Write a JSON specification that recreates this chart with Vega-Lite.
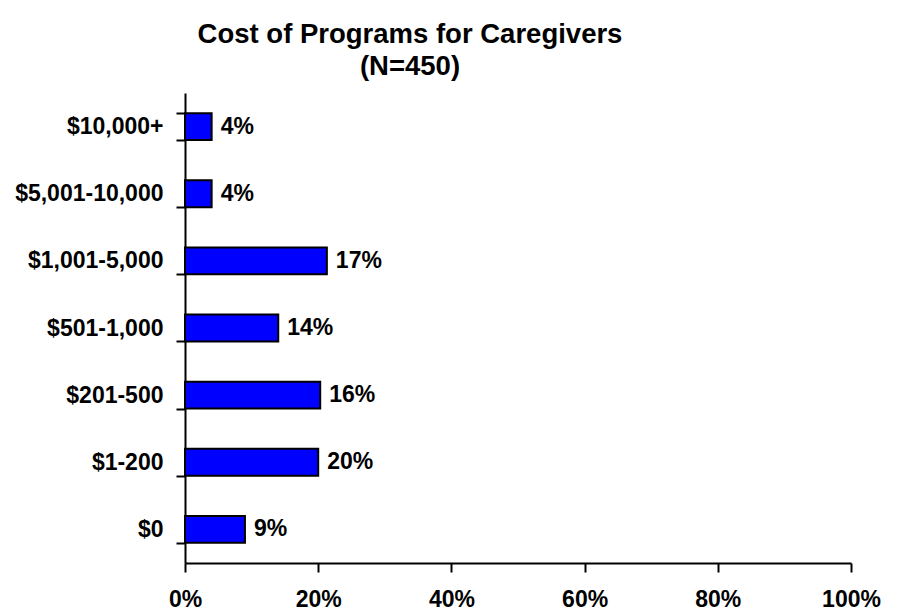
{
  "$schema": "https://vega.github.io/schema/vega-lite/v6.json",
  "width": 666,
  "height": 470,
  "autosize": "none",
  "padding": {"left": 185, "top": 93, "right": 47, "bottom": 49},
  "background": "white",
  "config": {"view": {"stroke": null}},
  "title": {
    "text": ["Cost of Programs for Caregivers", "(N=450)"],
    "font": "Liberation Sans",
    "fontSize": 27.5,
    "fontWeight": "bold",
    "color": "black",
    "lineHeight": 32,
    "anchor": "middle",
    "dx": -108,
    "offset": 2
  },
  "data": {
    "values": [
      {"cost": "$10,000+", "bar": 4, "label": "4%"},
      {"cost": "$5,001-10,000", "bar": 4, "label": "4%"},
      {"cost": "$1,001-5,000", "bar": 21.3, "label": "17%"},
      {"cost": "$501-1,000", "bar": 14, "label": "14%"},
      {"cost": "$201-500", "bar": 20.3, "label": "16%"},
      {"cost": "$1-200", "bar": 20, "label": "20%"},
      {"cost": "$0", "bar": 9, "label": "9%"}
    ]
  },
  "encoding": {
    "y": {
      "field": "cost",
      "type": "nominal",
      "sort": null,
      "title": null,
      "scale": {"paddingInner": 0.6, "paddingOuter": 0.3},
      "axis": {
        "tickBand": "extent",
        "tickSize": 9,
        "tickColor": "black",
        "tickWidth": 2,
        "domainColor": "black",
        "domainWidth": 2,
        "labelPadding": 13,
        "labelFont": "Liberation Sans",
        "labelFontSize": 23,
        "labelFontWeight": "bold",
        "labelColor": "black",
        "labelLimit": 400,
        "grid": false
      }
    }
  },
  "layer": [
    {
      "mark": {"type": "bar", "fill": "#0000FF", "stroke": "black", "strokeWidth": 2},
      "encoding": {
        "x": {
          "field": "bar",
          "type": "quantitative",
          "title": null,
          "scale": {"domain": [0, 100]},
          "axis": {
            "values": [0, 20, 40, 60, 80, 100],
            "labelExpr": "datum.value + '%'",
            "tickSize": 9,
            "tickColor": "black",
            "tickWidth": 2,
            "domainColor": "black",
            "domainWidth": 2,
            "labelPadding": 16,
            "labelFont": "Liberation Sans",
            "labelFontSize": 23,
            "labelFontWeight": "bold",
            "labelColor": "black",
            "labelFlush": false,
            "grid": false
          }
        }
      }
    },
    {
      "mark": {
        "type": "text",
        "align": "left",
        "baseline": "middle",
        "dx": 9,
        "font": "Liberation Sans",
        "fontSize": 23,
        "fontWeight": "bold",
        "color": "black"
      },
      "encoding": {
        "x": {"field": "bar", "type": "quantitative"},
        "text": {"field": "label"}
      }
    }
  ]
}
